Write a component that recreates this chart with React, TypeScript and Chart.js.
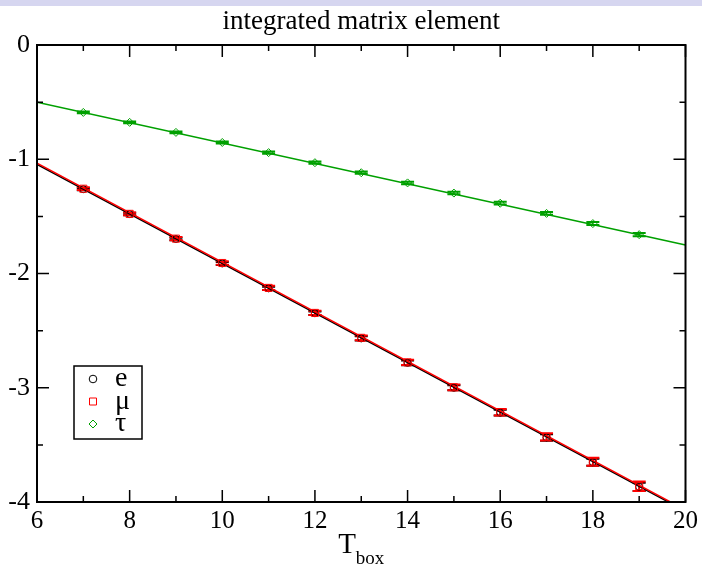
import React, { useEffect, useRef } from "react";
import { Chart, registerables } from "chart.js";

Chart.register(...registerables);

const tBox = [7, 8, 9, 10, 11, 12, 13, 14, 15, 16, 17, 18, 19];
const eValues = [-1.262, -1.48, -1.698, -1.912, -2.13, -2.348, -2.568, -2.782, -3.0, -3.218, -3.435, -3.652, -3.868];
const eErrors = [0.01, 0.011, 0.012, 0.013, 0.014, 0.016, 0.018, 0.02, 0.022, 0.025, 0.028, 0.031, 0.036];
const muValues = [-1.258, -1.478, -1.695, -1.908, -2.126, -2.345, -2.563, -2.778, -2.996, -3.214, -3.43, -3.648, -3.862];
const muErrors = [0.012, 0.013, 0.015, 0.016, 0.018, 0.019, 0.021, 0.023, 0.025, 0.028, 0.032, 0.035, 0.042];
const tauValues = [-0.59, -0.677, -0.765, -0.853, -0.942, -1.03, -1.118, -1.207, -1.296, -1.385, -1.474, -1.563, -1.66];
const tauErrors = [0.008, 0.008, 0.008, 0.009, 0.009, 0.01, 0.01, 0.011, 0.011, 0.012, 0.012, 0.013, 0.014];
const fitT = [6, 20];
const eFit = [-1.045, -4.08];
const muFit = [-1.035, -4.07];
const tauFit = [-0.5, -1.75];
const xMajorTicks = [6, 8, 10, 12, 14, 16, 18, 20];
const xMinorTicks = [7, 9, 11, 13, 15, 17, 19];
const yMajorTicks = [0, -1, -2, -3, -4];
const yMinorTicks = [-0.5, -1.5, -2.5, -3.5];
const legendLabels = ["e", "\u03bc", "\u03c4"];
const titleText = "integrated matrix element";
const xTitleMain = "T";
const xTitleSub = "box";

const BLACK = "#000000";
const RED = "#ff0000";
const GREEN = "#00a000";
const SERIF = "'Liberation Serif', 'Times New Roman', serif";

const toPts = (xs: number[], ys: number[]) => xs.map((x, i) => ({ x, y: ys[i] }));

const errorSeries = [
  { values: eValues, errors: eErrors, color: BLACK },
  { values: muValues, errors: muErrors, color: RED },
  { values: tauValues, errors: tauErrors, color: GREEN },
];

const decorPlugin = {
  id: "decor",
  beforeDraw(chart: any) {
    const { ctx, width } = chart;
    ctx.save();
    ctx.fillStyle = "#ffffff";
    ctx.fillRect(0, 0, chart.width, chart.height);
    ctx.fillStyle = "#d6d6f0";
    ctx.fillRect(0, 0, width, 6);
    ctx.restore();
  },
  beforeDatasetsDraw(chart: any) {
    const { ctx } = chart;
    const xs = chart.scales.x;
    const ys = chart.scales.y;
    ctx.save();
    errorSeries.forEach((s) => {
      ctx.strokeStyle = s.color;
      tBox.forEach((t, i) => {
        const px = xs.getPixelForValue(t);
        const top = ys.getPixelForValue(s.values[i] + s.errors[i]);
        const bot = ys.getPixelForValue(s.values[i] - s.errors[i]);
        ctx.lineWidth = 1.5;
        ctx.beginPath();
        ctx.moveTo(px, top);
        ctx.lineTo(px, bot);
        ctx.stroke();
        ctx.lineWidth = 2;
        ctx.beginPath();
        ctx.moveTo(px - 6.5, top);
        ctx.lineTo(px + 6.5, top);
        ctx.moveTo(px - 6.5, bot);
        ctx.lineTo(px + 6.5, bot);
        ctx.stroke();
      });
    });
    ctx.restore();
  },
  afterDraw(chart: any) {
    const { ctx, chartArea } = chart;
    const { left, right, top, bottom } = chartArea;
    const xs = chart.scales.x;
    const ys = chart.scales.y;
    ctx.save();
    ctx.strokeStyle = BLACK;
    ctx.lineWidth = 2;
    ctx.strokeRect(left, top, right - left, bottom - top);
    ctx.lineWidth = 1.5;
    ctx.beginPath();
    const vTick = (v: number, len: number) => {
      const px = xs.getPixelForValue(v);
      ctx.moveTo(px, bottom);
      ctx.lineTo(px, bottom - len);
      ctx.moveTo(px, top);
      ctx.lineTo(px, top + len);
    };
    const hTick = (v: number, len: number) => {
      const py = ys.getPixelForValue(v);
      ctx.moveTo(left, py);
      ctx.lineTo(left + len, py);
      ctx.moveTo(right, py);
      ctx.lineTo(right - len, py);
    };
    xMajorTicks.forEach((v) => vTick(v, 12));
    xMinorTicks.forEach((v) => vTick(v, 6));
    yMajorTicks.forEach((v) => hTick(v, 12));
    yMinorTicks.forEach((v) => hTick(v, 6));
    ctx.stroke();

    // title
    ctx.fillStyle = BLACK;
    ctx.textAlign = "center";
    ctx.textBaseline = "alphabetic";
    ctx.font = `27px ${SERIF}`;
    ctx.fillText(titleText, (left + right) / 2, 29);

    // x-axis title with subscript
    ctx.font = `29px ${SERIF}`;
    const wMain = ctx.measureText(xTitleMain).width;
    ctx.font = `19px ${SERIF}`;
    const wSub = ctx.measureText(xTitleSub).width;
    const startX = (left + right) / 2 - (wMain + wSub) / 2;
    ctx.textAlign = "left";
    ctx.font = `29px ${SERIF}`;
    ctx.fillText(xTitleMain, startX, 553);
    ctx.font = `19px ${SERIF}`;
    ctx.fillText(xTitleSub, startX + wMain, 564);

    // legend
    const bx = 74, by = 366, bw = 68, bh = 73;
    ctx.fillStyle = "#ffffff";
    ctx.fillRect(bx, by, bw, bh);
    ctx.strokeStyle = BLACK;
    ctx.lineWidth = 1.5;
    ctx.strokeRect(bx, by, bw, bh);
    const rows = [379, 401.5, 424];
    const colors = [BLACK, RED, GREEN];
    const sx = 93;
    ctx.lineWidth = 1;
    rows.forEach((ry, i) => {
      ctx.strokeStyle = colors[i];
      ctx.beginPath();
      if (i === 0) {
        ctx.arc(sx, ry, 3.8, 0, Math.PI * 2);
      } else if (i === 1) {
        ctx.rect(sx - 3.5, ry - 3.5, 7, 7);
      } else {
        ctx.moveTo(sx - 4, ry);
        ctx.lineTo(sx, ry - 4);
        ctx.lineTo(sx + 4, ry);
        ctx.lineTo(sx, ry + 4);
        ctx.closePath();
      }
      ctx.stroke();
    });
    ctx.fillStyle = BLACK;
    ctx.textAlign = "left";
    ctx.textBaseline = "alphabetic";
    ctx.font = `28px ${SERIF}`;
    rows.forEach((ry, i) => {
      ctx.fillText(legendLabels[i], 115, ry + 7);
    });
    ctx.restore();
  },
};

export default function App() {
  const ref = useRef<HTMLCanvasElement | null>(null);
  useEffect(() => {
    if (!ref.current) return;
    const chart = new Chart(ref.current, {
      type: "scatter",
      data: {
        datasets: [
          {
            label: "mu",
            data: toPts(tBox, muValues),
            pointStyle: "rect",
            pointRadius: 5,
            borderColor: RED,
            backgroundColor: "rgba(0,0,0,0)",
            borderWidth: 1,
            showLine: false,
          },
          {
            label: "e",
            data: toPts(tBox, eValues),
            pointStyle: "circle",
            pointRadius: 3.5,
            borderColor: BLACK,
            backgroundColor: "rgba(0,0,0,0)",
            borderWidth: 1,
            showLine: false,
          },
          {
            label: "tau",
            data: toPts(tBox, tauValues),
            pointStyle: "rectRot",
            pointRadius: 4,
            borderColor: GREEN,
            backgroundColor: "rgba(0,0,0,0)",
            borderWidth: 1,
            showLine: false,
          },
          {
            label: "mu fit",
            data: toPts(fitT, muFit),
            showLine: true,
            pointRadius: 0,
            borderColor: RED,
            borderWidth: 1.5,
          },
          {
            label: "e fit",
            data: toPts(fitT, eFit),
            showLine: true,
            pointRadius: 0,
            borderColor: BLACK,
            borderWidth: 1.5,
          },
          {
            label: "tau fit",
            data: toPts(fitT, tauFit),
            showLine: true,
            pointRadius: 0,
            borderColor: GREEN,
            borderWidth: 1.5,
          },
        ],
      },
      options: {
        animation: false,
        responsive: false,
        devicePixelRatio: 1,
        layout: { padding: { left: 0, right: 16, top: 45, bottom: 0 } },
        plugins: {
          legend: { display: false },
          title: { display: false },
          tooltip: { enabled: false },
        },
        events: [],
        scales: {
          x: {
            type: "linear",
            min: 6,
            max: 20,
            afterFit: (s: any) => {
              s.height = 64;
            },
            afterBuildTicks: (s: any) => {
              s.ticks = xMajorTicks.map((v) => ({ value: v }));
            },
            grid: { display: false, drawTicks: false },
            border: { display: false },
            ticks: {
              color: BLACK,
              font: { family: SERIF, size: 25 },
              padding: 4,
              maxRotation: 0,
              autoSkip: false,
            },
          },
          y: {
            type: "linear",
            min: -4,
            max: 0,
            afterFit: (s: any) => {
              s.width = 37;
            },
            afterBuildTicks: (s: any) => {
              s.ticks = yMajorTicks.map((v) => ({ value: v }));
            },
            grid: { display: false, drawTicks: false },
            border: { display: false },
            ticks: {
              color: BLACK,
              font: { family: SERIF, size: 26 },
              padding: 7,
              autoSkip: false,
            },
          },
        },
      },
      plugins: [decorPlugin],
    } as any);
    return () => chart.destroy();
  }, []);
  return (
    <div style={{ position: "fixed", left: 0, top: 0, width: 702, height: 566 }}>
      <canvas ref={ref} width={702} height={566} style={{ width: 702, height: 566, display: "block" }} />
    </div>
  );
}
